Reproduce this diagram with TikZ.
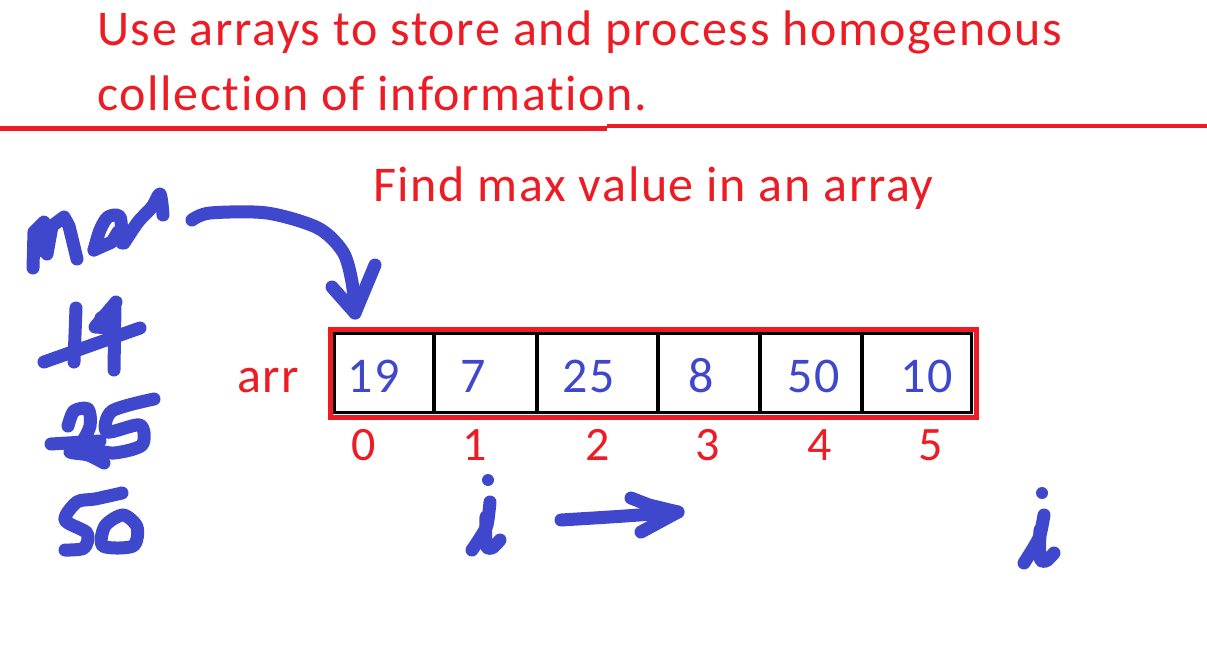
\documentclass[tikz,border=0pt]{standalone}
\usepackage{fontspec}
\setmainfont{Carlito}[LetterSpace=3.2,Ligatures=NoCommon]
\usetikzlibrary{positioning}
\definecolor{Rojo}{HTML}{ED1C24}
\definecolor{Tinta}{HTML}{3F48CC}

\begin{document}
\begin{tikzpicture}[x=1pt,y=-1pt,
        titulo/.style={text=Rojo,anchor=base west,inner sep=0pt,font=\fontsize{50}{60}\selectfont},
        valor/.style={text=Tinta,anchor=base west,inner sep=0pt,font=\fontsize{50}{60}\selectfont},
        indice/.style={text=Rojo,anchor=base,inner sep=0pt,font=\fontsize{48}{58}\selectfont},
        rejilla/.style={draw=black,line width=3.5pt},
        marco/.style={draw=Rojo,line width=5pt},
        tinta/.style={draw=Tinta,line width=13pt,line cap=round,line join=round}]
        \useasboundingbox (0,0) rectangle (1207,649);
        % heading
        \node[titulo] (t1) at (97,45) {Use arrays to store and process homogenous};
        \node[titulo] (t2) at (97,110) {collection of information.};
        \draw[Rojo,line width=5pt] (0,128) -- (607,128);
        \draw[Rojo,line width=4pt] (607,126) -- (1207,126);
        \node[titulo] (sub) at (373,201) {Find max value in an array};
        % the array
        \draw[rejilla] (334.5,333.5) rectangle (971.5,412.5);
        \foreach \x in {434,537,658,760,862} \draw[rejilla] (\x,333) -- (\x,413);
        \draw[marco] (330,329) rectangle (976,417);
        \node[titulo] (arr) at (237,392) {arr};
        \node[valor] (v0) at (347,392) {19};
        \node[valor] (v1) at (460,392) {7};
        \node[valor] (v2) at (562,392) {25};
        \node[valor] (v3) at (688,392) {8};
        \node[valor] (v4) at (787,392) {50};
        \node[valor] (v5) at (900,392) {10};
        \node[indice] (i0) at (364,460) {0};
        \node[indice] (i1) at (475,460) {1};
        \node[indice] (i2) at (598,460) {2};
        \node[indice] (i3) at (708,460) {3};
        \node[indice] (i4) at (820,460) {4};
        \node[indice] (i5) at (931,460) {5};
        % handwriting: max, 14, 25, 50
        \draw[tinta] (33,268) -- (34,232) -- (44,222) -- (47,254) -- (52,226) -- (64,217) -- (69,226) -- (77,259);
        \draw[tinta] (38,250) -- (46,250);
        \draw[tinta] plot[smooth] coordinates {(94,250) (100,230) (108,217) (120,217) (122,243)};
        \draw[tinta] (94,250) -- (112,242) -- (118,232);
        \draw[tinta] plot[smooth] coordinates {(124,243) (138,222) (152,207) (160,194) (163,215)};
        \coordinate (maxfin) at (192,220);
        \coordinate (punta) at (355,313);
        \draw[tinta] plot[smooth] coordinates {(maxfin) (210,213) (267,213) (318,228) (343,252) (352,282) (punta)};
        \draw[tinta] (332,287) -- (punta) -- (375,265);
        \draw[tinta] (76,308) -- (74,362);
        \draw[tinta] (116,302) -- (95,327) -- (112,328);
        \draw[tinta] (101,318) -- (114,310);
        \draw[tinta] (115,305) -- (114,370);
        \draw[tinta] (44,362) -- (140,328);
        \draw[tinta] plot[smooth] coordinates {(68,426) (74,411) (88,409) (90,426) (80,445) (70,452) (88,455) (104,463)};
        \draw[tinta] (51,444) -- (100,441);
        \draw[tinta] plot[smooth] coordinates {(154,399) (112,411) (107,432) (140,425) (142,445) (114,453) (92,449)};
        \draw[tinta] plot[smooth] coordinates {(122,493) (95,499) (77,502) (65,520) (87,533) (84,548) (65,550)};
        \draw[tinta] plot[smooth cycle] coordinates {(123,515) (105,526) (103,546) (133,546) (137,527)};
        % the two i and the arrow
        \fill[Tinta] (488,480) circle (6);
        \draw[tinta] plot[smooth] coordinates {(490,502) (487,525) (480,538) (472,550)};
        \draw[tinta] plot[smooth] coordinates {(486,517) (486,545) (492,548) (500,540)};
        \coordinate (flechaini) at (561,520);
        \coordinate (flechafin) at (678,512);
        \draw[tinta] plot[smooth] coordinates {(flechaini) (625,516) (flechafin)};
        \draw[tinta] (631,498) -- (649,505) -- (flechafin) -- (641,532);
        \fill[Tinta] (1042,493) circle (6);
        \draw[tinta] plot[smooth] coordinates {(1044,515) (1040,535) (1034,547) (1024,563)};
        \draw[tinta] plot[smooth] coordinates {(1040,530) (1040,558) (1046,561) (1054,553)};
      \end{tikzpicture}
\end{document}
